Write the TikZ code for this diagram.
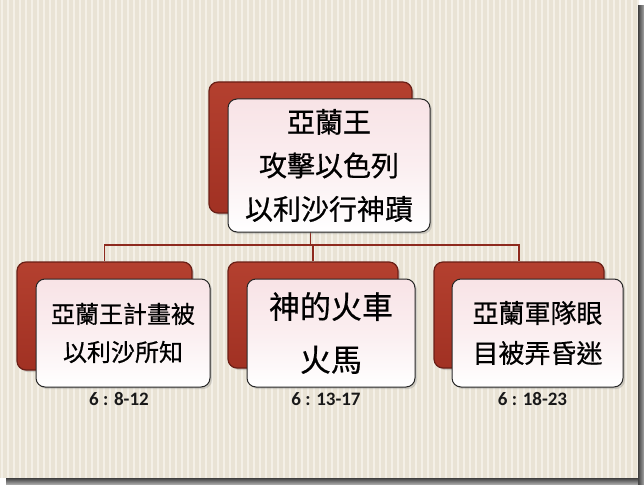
\documentclass[tikz,border=0pt]{standalone}
\usepackage{fontspec}
\newfontfamily\cjk[FakeBold=0.6]{Noto Sans CJK TC}
\newfontfamily\lblfont{Carlito}
\usetikzlibrary{shadows}
\definecolor{bg}{HTML}{E9E3D5}
\definecolor{stripe}{HTML}{F4F0E7}
\definecolor{boxred}{HTML}{A13123}
\definecolor{boxredlt}{HTML}{B4402F}
\definecolor{boxreddk}{HTML}{6A1F16}
\definecolor{conncol}{HTML}{8E2A1E}
\definecolor{frontpink}{HTML}{F8E3E6}
\tikzset{
  backbox/.style={rectangle, rounded corners=9pt, draw=boxreddk, line width=1.2pt,
    top color=boxredlt, bottom color=boxred, inner sep=0pt,
    drop shadow={opacity=0.35, shadow xshift=2pt, shadow yshift=-2pt}},
  frontbox/.style={rectangle, rounded corners=9pt, draw=black!85, line width=1pt,
    top color=frontpink, bottom color=white, middle color=frontpink!60!white,
    inner sep=0pt, align=center, text=black,
    drop shadow={opacity=0.3, shadow xshift=2pt, shadow yshift=-2pt}},
  conn/.style={draw=conncol, line width=1.6pt},
  reflabel/.style={font=\lblfont\bfseries\fontsize{19}{21}\selectfont, text=black!90, inner sep=0pt}
}
\begin{document}
\begin{tikzpicture}[x=1pt,y=-1pt]
\useasboundingbox (0,0) rectangle (644,484);
% background
\fill[bg] (0,0) rectangle (638,478);
\foreach \sx in {2,8,...,638} {
  \draw[stripe, line width=1.2pt] (\sx,0) -- (\sx,478);
}
% frame shadow
\shade[left color=black!75, right color=black!35] (638,6) rectangle (644,484);
\shade[top color=black!75, bottom color=black!35] (6,478) rectangle (638,484);

% back boxes
\node[backbox, minimum width=203pt, minimum height=131pt] (topback) at (310.5,147.5) {};
\node[backbox, minimum width=175pt, minimum height=108pt] (leftback) at (104.5,316) {};
\node[backbox, minimum width=170pt, minimum height=106pt] (midback) at (313,315) {};
\node[backbox, minimum width=170pt, minimum height=106pt] (rightback) at (519,315) {};

% connectors
\coordinate (hy) at (0,245);
\draw[conn] (topback.south) -- (topback.south |- hy);
\draw[conn] (leftback.north) |- (rightback.north |- hy) -- (rightback.north);
\draw[conn] (midback.north) -- (midback.north |- hy);

% front boxes
\node[frontbox, minimum width=202pt, minimum height=133pt,
  font=\cjk\fontsize{28}{43.5}\selectfont] (topfront) at (329,165.5)
  {亞蘭王\\攻擊以色列\\以利沙行神蹟};
\node[frontbox, minimum width=174pt, minimum height=108pt,
  font=\cjk\fontsize{24}{38}\selectfont] (leftfront) at (123,333)
  {亞蘭王計畫被\\以利沙所知};
\node[frontbox, minimum width=168pt, minimum height=108pt,
  font=\cjk\fontsize{31}{53}\selectfont] (midfront) at (331,333)
  {神的火車\\火馬};
\node[frontbox, minimum width=171pt, minimum height=108pt,
  font=\cjk\fontsize{26}{40}\selectfont] (rightfront) at (537.5,333)
  {亞蘭軍隊眼\\目被弄昏迷};

% reference labels
\node[reflabel] (lab1) at (119,399) {6 : 8-12};
\node[reflabel] (lab2) at (326,399) {6 : 13-17};
\node[reflabel] (lab3) at (532.5,399) {6 : 18-23};
\end{tikzpicture}
\end{document}
